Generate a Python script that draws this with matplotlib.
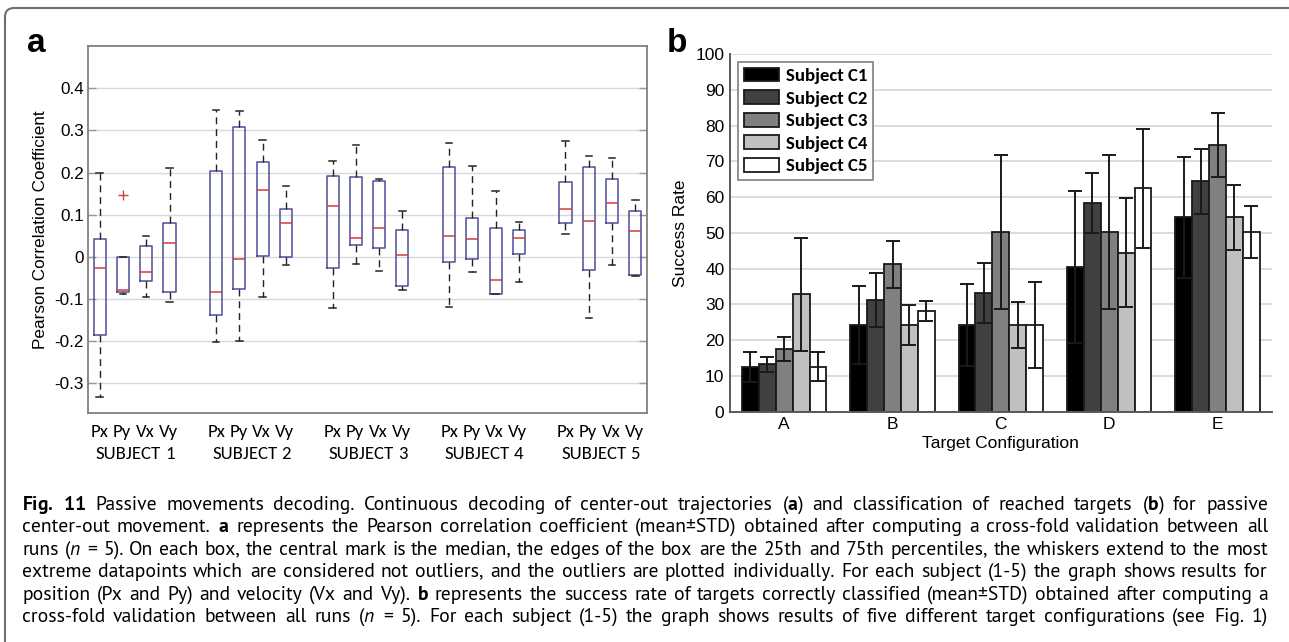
import math
import numpy as np
import matplotlib
matplotlib.use('Agg')
import matplotlib.pyplot as plt
from matplotlib import font_manager
from matplotlib.patches import FancyBboxPatch
import matplotlib.transforms as mtransforms

# ---------------- data: panel a (box plots) ----------------
variables = ['Px', 'Py', 'Vx', 'Vy']
subjects = ['SUBJECT 1', 'SUBJECT 2', 'SUBJECT 3', 'SUBJECT 4', 'SUBJECT 5']
# order: S1 Px,Py,Vx,Vy, S2 Px,...
whis_hi = [0.200, 0.000, 0.050, 0.210, 0.349, 0.345, 0.278, 0.169, 0.227, 0.266,
           0.185, 0.110, 0.270, 0.215, 0.156, 0.083, 0.274, 0.240, 0.235, 0.134]
q3_vals = [0.043, 0.000, 0.026, 0.080, 0.203, 0.308, 0.225, 0.113, 0.193, 0.189,
           0.180, 0.064, 0.213, 0.092, 0.069, 0.064, 0.177, 0.213, 0.184, 0.109]
medians = [-0.026, -0.079, -0.035, 0.034, -0.084, -0.005, 0.158, 0.080, 0.120, 0.045,
           0.069, 0.004, 0.050, 0.042, -0.054, 0.045, 0.113, 0.084, 0.127, 0.061]
q1_vals = [-0.185, -0.084, -0.058, -0.083, -0.138, -0.076, 0.002, 0.000, -0.027, 0.028,
           0.020, -0.069, -0.011, -0.004, -0.087, 0.008, 0.080, -0.031, 0.080, -0.043]
whis_lo = [-0.332, -0.088, -0.094, -0.108, -0.202, -0.199, -0.096, -0.019, -0.120, -0.017,
           -0.033, -0.079, -0.118, -0.035, -0.087, -0.060, 0.054, -0.145, -0.019, -0.046]
outliers = [[], [0.146], [], [], [], [], [], [], [], [],
            [], [], [], [], [], [], [], [], [], []]
yticks_a = [-0.3, -0.2, -0.1, 0.0, 0.1, 0.2, 0.3, 0.4]
ytick_labels_a = ['-0.3', '-0.2', '-0.1', '0', '0.1', '0.2', '0.3', '0.4']

# ---------------- data: panel b (bars) ----------------
configs = ['A', 'B', 'C', 'D', 'E']
bar_subjects = ['Subject C1', 'Subject C2', 'Subject C3', 'Subject C4', 'Subject C5']
rate_c1 = [12.5, 24.3, 24.3, 40.4, 54.3]
rate_c2 = [13.2, 31.2, 33.2, 58.3, 64.4]
rate_c3 = [17.5, 41.2, 50.3, 50.3, 74.6]
rate_c4 = [32.8, 24.3, 24.3, 44.5, 54.3]
rate_c5 = [12.6, 28.2, 24.3, 62.4, 50.3]
std_c1 = [4.1, 10.9, 11.4, 21.3, 16.8]
std_c2 = [2.0, 7.6, 8.5, 8.4, 9.0]
std_c3 = [3.3, 6.5, 21.5, 21.5, 9.0]
std_c4 = [15.7, 5.6, 6.5, 15.2, 9.0]
std_c5 = [4.0, 2.8, 12.0, 16.5, 7.2]
yticks_b = [0, 10, 20, 30, 40, 50, 60, 70, 80, 90, 100]

caption_lines = [
    r'$\mathbf{Fig.}$ $\mathbf{11}$ Passive movements decoding. Continuous decoding of center-out trajectories ($\mathbf{a}$) and classification of reached targets ($\mathbf{b}$) for passive',
    r'center-out movement. $\mathbf{a}$ represents the Pearson correlation coefficient (mean±STD) obtained after computing a cross-fold validation between all',
    r'runs ($\mathit{n}$ = 5). On each box, the central mark is the median, the edges of the box are the 25th and 75th percentiles, the whiskers extend to the most',
    r'extreme datapoints which are considered not outliers, and the outliers are plotted individually. For each subject (1-5) the graph shows results for',
    r'position (Px and Py) and velocity (Vx and Vy). $\mathbf{b}$ represents the success rate of targets correctly classified (mean±STD) obtained after computing a',
    r'cross-fold validation between all runs ($\mathit{n}$ = 5). For each subject (1-5) the graph shows results of five different target configurations (see Fig. 1)',
]

# ---------------- fonts ----------------
static = {}
for f in font_manager.fontManager.ttflist:
    if '[' in f.fname:
        continue
    static.setdefault(f.name, set()).add((f.weight, f.style))


def pick(cands):
    for c in cands:
        s = static.get(c, set())
        if (400, 'normal') in s and (700, 'normal') in s:
            return c
    return 'DejaVu Sans'


ARIAL = pick(['Liberation Sans', 'Arimo'])
CALI = pick(['Carlito', 'Lato'])
CAP = pick(['Source Sans Pro', 'Source Sans 3', 'PT Sans', 'Lato'])

plt.rcParams['font.family'] = [ARIAL, 'DejaVu Sans']
plt.rcParams['mathtext.fontset'] = 'custom'
plt.rcParams['mathtext.rm'] = CAP
plt.rcParams['mathtext.bf'] = CAP + ':bold'
plt.rcParams['mathtext.it'] = CAP + ':italic'

W, H = 1289, 642
fig = plt.figure(figsize=(W / 100, H / 100), dpi=100)
fig.patch.set_facecolor('white')
renderer = fig.canvas.get_renderer()

try:
    from matplotlib.backends.backend_agg import get_hinting_flag
except Exception:  # pragma: no cover
    get_hinting_flag = None


def snap_offset(t):
    """Sub-pixel offset so that Agg's bitmap rounding puts the baseline on the wanted row."""
    try:
        s, ismath = t._preprocess_math(t.get_text())
        if ismath or get_hinting_flag is None:
            return 0.0
        font = renderer._prepare_font(t.get_fontproperties())
        font.set_text(s, 0, flags=get_hinting_flag())
        w26, h26 = font.get_width_height()
        d26 = font.get_descent()
        ymax26 = h26 - d26
        k = int(h26 // 64) - int(ymax26 / 64.0)
        return k - d26 / 64.0
    except Exception:
        return 0.0


def make_words(words, size, family, weight='normal'):
    ts = [fig.text(0, 0, wd, fontsize=size, fontfamily=family, fontweight=weight,
                   ha='left', va='baseline') for wd in words]
    ws = [t.get_window_extent(renderer).width for t in ts]
    return ts, ws


def space_width(size, family, weight='normal'):
    p1 = fig.text(0, 0, 'a a', fontsize=size, fontfamily=family, fontweight=weight)
    p2 = fig.text(0, 0, 'aa', fontsize=size, fontfamily=family, fontweight=weight)
    s = p1.get_window_extent(renderer).width - p2.get_window_extent(renderer).width
    p1.remove()
    p2.remove()
    return s


def place_row(ts, ws, x_left, y_base, gap):
    xpos = x_left
    n = round(y_base)
    for t, w in zip(ts, ws):
        yy = n + snap_offset(t)
        t.set_position((round(xpos) / W, 1 - yy / H))
        xpos += w + gap


# ================= panel a =================
axa = fig.add_axes([88 / W, 1 - 413 / H, (647 - 88) / W, (413 - 46) / H])
stats = []
for i in range(len(medians)):
    stats.append(dict(med=medians[i], q1=q1_vals[i], q3=q3_vals[i],
                      whislo=whis_lo[i], whishi=whis_hi[i], fliers=outliers[i]))
positions = [1 + 5 * g + k for g in range(len(subjects)) for k in range(len(variables))]
box_col = '#4e4e98'
axa.bxp(stats, positions=positions, widths=0.52, capwidths=0.28, showfliers=True,
        boxprops=dict(color=box_col, lw=1.1),
        whiskerprops=dict(color='#222222', lw=1.0, linestyle=(0, (5, 3.5))),
        capprops=dict(color='#222222', lw=1.1),
        medianprops=dict(color='#d83a3a', lw=1.1),
        flierprops=dict(marker='+', markeredgecolor='#d04040', markersize=7,
                        linestyle='none', markeredgewidth=1.0))
axa.set_xlim(0.5, 24.5)
axa.set_ylim(-0.37, 0.5)
axa.set_yticks(yticks_a)
axa.set_yticklabels(ytick_labels_a, fontsize=12.3, fontfamily=ARIAL)
axa.set_xticks([])
axa.yaxis.grid(True, color='#d9d9d9', lw=1.0)
axa.set_axisbelow(True)
for s in axa.spines.values():
    s.set_color('#808080')
    s.set_linewidth(1.3)
axa.tick_params(axis='y', direction='in', left=True, right=True, length=6,
                color='#9a9a9a', width=1.0, pad=3)
axa.set_ylabel('Pearson Correlation Coefficient', fontsize=12.3, fontfamily=ARIAL, labelpad=5)

# group labels under the boxes (word by word, centred on each group)
sp_a = space_width(13.5, CALI)
for g, subj in enumerate(subjects):
    cx = np.mean(positions[4 * g:4 * g + 4])
    cx_px = axa.transData.transform((cx, 0))[0]
    for words, yb in ((variables, 437), (subj.split(' '), 459)):
        ts, ws = make_words(words, 13.5, CALI)
        total = sum(ws) + sp_a * (len(ws) - 1)
        place_row(ts, ws, cx_px - total / 2, yb, sp_a)

# ================= panel b =================
axb = fig.add_axes([730 / W, 1 - 411.7 / H, (1271.7 - 730) / W, (411.7 - 54) / H])
rates = [rate_c1, rate_c2, rate_c3, rate_c4, rate_c5]
stds = [std_c1, std_c2, std_c3, std_c4, std_c5]
colors = ['#000000', '#404040', '#808080', '#c0c0c0', '#ffffff']
x = np.arange(len(configs))
bw = 0.156
for i in range(5):
    axb.bar(x + (i - 2) * bw, rates[i], width=bw, color=colors[i], edgecolor='#1a1a1a',
            linewidth=1.3, label=bar_subjects[i], zorder=2)
    axb.errorbar(x + (i - 2) * bw, rates[i], yerr=stds[i], fmt='none', ecolor='#1a1a1a',
                 elinewidth=1.4, capsize=5, capthick=1.4, zorder=3)
axb.set_xlim(-0.5, 4.5)
axb.set_ylim(0, 100)
axb.set_yticks(yticks_b)
axb.set_yticklabels([str(v) for v in yticks_b], fontsize=12.5, fontfamily=ARIAL)
axb.set_xticks(x)
axb.set_xticklabels(configs, fontsize=12.5, fontfamily=ARIAL)
axb.tick_params(length=0, pad=4)
axb.yaxis.grid(True, color='#d9d9d9', lw=1.3)
axb.set_axisbelow(True)
for k in ['top', 'right']:
    axb.spines[k].set_visible(False)
for k in ['left', 'bottom']:
    axb.spines[k].set_color('#5a5a5a')
    axb.spines[k].set_linewidth(1.4)
axb.spines['bottom'].set_zorder(4)
axb.set_xlabel('Target Configuration', fontsize=12.5, fontfamily=ARIAL, labelpad=3)
axb.set_ylabel('Success Rate', fontsize=12.5, fontfamily=ARIAL, labelpad=5)
leg = axb.legend(loc='upper left', bbox_to_anchor=((738 - 730) / 541.7, (411.7 - 62) / 357.7),
                 borderaxespad=0, fancybox=False, framealpha=1, edgecolor='#808080',
                 prop=dict(family=CALI, weight='bold', size=13.5),
                 handlelength=1.9, handleheight=0.75, handletextpad=0.35,
                 labelspacing=0.33, borderpad=0.3)
leg.get_frame().set_linewidth(1.2)

# panel letters
fig.text(27 / W, 1 - 52 / H, 'a', fontsize=24, fontweight='bold', fontfamily=ARIAL,
         ha='left', va='baseline')
fig.text(667 / W, 1 - 52 / H, 'b', fontsize=24, fontweight='bold', fontfamily=ARIAL,
         ha='left', va='baseline')


# ================= caption (justified, word by word) =================
def split_words(line):
    out, cur, inmath = [], '', False
    for ch in line:
        if ch == '$':
            inmath = not inmath
        if ch == ' ' and not inmath:
            if cur:
                out.append(cur)
            cur = ''
        else:
            cur += ch
    if cur:
        out.append(cur)
    return out


X0, X1 = 22.0, 1268.0
target = X1 - X0
fs0 = 14.0
word_lines = [split_words(l) for l in caption_lines]
rows = [make_words(ws, fs0, CAP) for ws in word_lines]
sp0 = space_width(fs0, CAP)
nat = [sum(ws) + sp0 * (len(ws) - 1) for ts, ws in rows]
fs = fs0 * target / max(nat) * 0.99
for j, (ts, _) in enumerate(rows):
    for t in ts:
        t.set_fontsize(fs)
    ws = [t.get_window_extent(renderer).width for t in ts]
    gap = (target - sum(ws)) / (len(ws) - 1)
    place_row(ts, ws, X0, 510 + 22.4 * j, gap)

# figure frame (top and left edges visible)
frame = FancyBboxPatch((5, -100), 1500, (H - 8) + 100,
                       boxstyle='round,pad=0,rounding_size=9',
                       transform=mtransforms.IdentityTransform(),
                       fill=False, edgecolor='#6e6e6e', linewidth=1.5)
fig.add_artist(frame)

fig.savefig('out.png', dpi=100)
